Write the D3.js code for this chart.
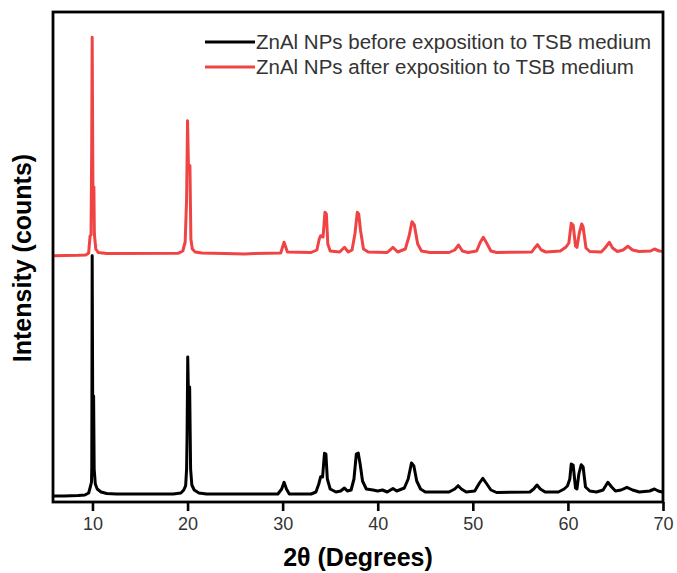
<!DOCTYPE html>
<html><head><meta charset="utf-8">
<script src="https://cdn.jsdelivr.net/npm/d3@7"></script>
<style>body{margin:0;background:#fff}svg{display:block}</style>
</head><body>
<svg id="c" width="677" height="573"></svg>
<script>
// ---- data ----
const xTicks = [10, 20, 30, 40, 50, 60, 70];
const seriesNames = ["ZnAl NPs before exposition to TSB medium", "ZnAl NPs after exposition to TSB medium"];
const seriesColors = ["#000000", "#f04444"];
const redOffset = 4800; // vertical stacking offset (counts)

// black: before exposition  [2θ, counts]
const before = [
[5.85,120],[7.0,120],[8.5,130],[9.2,140],[9.6,180],[9.8,320],[9.9,400],[9.93,700],[9.97,4926],[10.03,1700],
[10.12,2120],[10.18,660],[10.3,360],[10.5,260],[10.9,200],[11.5,170],[12.5,160],[18.5,160],[19.3,180],[19.6,240],
[19.8,326],[19.9,660],[19.95,1320],[20.02,2900],[20.1,2060],[20.22,2300],[20.32,660],[20.45,340],[20.7,240],[21.2,180],
[22.0,160],[29.5,160],[29.9,260],[30.15,394],[30.4,260],[30.7,160],[33.0,160],[33.5,200],[33.8,360],[34.0,506],
[34.2,500],[34.4,974],[34.55,960],[34.7,460],[35.0,260],[35.6,200],[36.1,220],[36.5,280],[36.8,220],[37.2,240],
[37.5,460],[37.75,960],[37.95,980],[38.15,760],[38.4,420],[38.8,260],[39.5,240],[40.0,220],[40.5,240],[41.0,200],
[41.6,270],[42.0,220],[42.8,280],[43.2,460],[43.55,780],[43.8,720],[44.1,420],[44.5,260],[45.0,200],[47.5,200],
[48.1,260],[48.45,326],[48.8,260],[49.3,200],[50.2,220],[50.7,380],[51.05,474],[51.4,380],[51.9,240],[52.5,190],
[56.0,200],[56.4,260],[56.75,340],[57.1,260],[57.6,200],[59.0,200],[59.6,260],[59.95,320],[60.2,460],[60.35,760],
[60.55,740],[60.8,280],[60.95,260],[61.15,560],[61.4,746],[61.6,700],[61.85,300],[62.3,220],[63.0,200],[63.7,240],
[64.2,394],[64.6,300],[65.0,220],[65.6,240],[66.2,294],[66.8,240],[67.5,200],[68.6,220],[69.1,260],[69.5,220],[70.0,194]
];

// red: after exposition  [2θ, counts]
const after = [
[5.85,126],[8.5,134],[9.3,140],[9.6,180],[9.75,520],[9.85,540],[9.92,2260],[9.97,4494],[10.05,1460],[10.15,1500],
[10.2,560],[10.35,260],[10.6,190],[11.5,170],[19.0,174],[19.5,220],[19.75,400],[19.9,1260],[20.0,2826],[20.1,1860],
[20.25,1926],[20.35,460],[20.5,260],[20.8,200],[21.5,180],[25.0,166],[26.0,160],[27.0,170],[29.8,180],[30.15,394],
[30.5,200],[33.0,190],[33.6,240],[33.85,460],[34.0,526],[34.25,500],[34.45,994],[34.6,960],[34.75,360],[35.0,220],
[36.0,200],[36.5,294],[36.9,200],[37.3,240],[37.6,560],[37.85,994],[38.0,960],[38.2,620],[38.5,260],[39.0,200],
[41.0,190],[41.6,294],[42.1,200],[42.9,260],[43.3,520],[43.6,806],[43.85,740],[44.2,360],[44.6,220],[45.5,190],
[47.5,190],[48.1,240],[48.5,340],[48.9,220],[49.5,190],[50.4,220],[50.8,400],[51.1,494],[51.45,380],[51.9,220],
[52.5,190],[56.2,200],[56.5,280],[56.8,346],[57.2,240],[57.7,200],[59.2,220],[59.8,300],[60.1,380],[60.35,774],
[60.55,740],[60.8,320],[60.95,294],[61.2,580],[61.45,760],[61.6,700],[61.9,280],[62.3,210],[63.5,200],[63.9,280],
[64.35,394],[64.7,280],[65.2,210],[65.8,240],[66.3,314],[66.8,240],[67.5,210],[68.7,220],[69.1,260],[69.6,220],[70.0,214]
];

// ---- layout ----
const svg = d3.select("#c");
const L = 53, R = 663, T = 12, B = 502;
const x = d3.scaleLinear().domain([5.85, 70]).range([L, R]);
const y = d3.scaleLinear().domain([0, 9800]).range([B, T]);
const font = "'Liberation Sans', Arial, sans-serif";

const lineGen = off => d3.line().x(d => x(d[0])).y(d => y(d[1] + off));

svg.append("path").datum(before).attr("d", lineGen(0))
  .attr("fill", "none").attr("stroke", seriesColors[0]).attr("stroke-width", 3).attr("stroke-linejoin", "round");
svg.append("path").datum(after).attr("d", lineGen(redOffset))
  .attr("fill", "none").attr("stroke", seriesColors[1]).attr("stroke-width", 3).attr("stroke-linejoin", "round");

// frame
svg.append("rect").attr("x", L).attr("y", T).attr("width", R - L).attr("height", B - T)
  .attr("fill", "none").attr("stroke", "#000").attr("stroke-width", 2.8);

// x axis
const xa = svg.append("g").attr("transform", `translate(0,${B})`)
  .call(d3.axisBottom(x).tickValues(xTicks).tickSize(9).tickSizeOuter(0).tickPadding(6));
xa.select(".domain").remove();
xa.selectAll("line").attr("stroke", "#000").attr("stroke-width", 2.6);
xa.selectAll("text").attr("font-family", font).attr("font-size", 18).attr("fill", "#333");

// titles
svg.append("text").attr("x", 358).attr("y", 566).attr("text-anchor", "middle")
  .attr("font-family", font).attr("font-weight", "bold").attr("font-size", 25).text("2θ (Degrees)");
svg.append("text").attr("transform", "translate(31,258) rotate(-90)").attr("text-anchor", "middle")
  .attr("font-family", font).attr("font-weight", "bold").attr("font-size", 25).text("Intensity (counts)");

// legend
const lg = svg.append("g");
seriesNames.forEach((n, i) => {
  const yy = 42 + i * 25;
  lg.append("line").attr("x1", 205).attr("x2", 255).attr("y1", yy).attr("y2", yy)
    .attr("stroke", seriesColors[i]).attr("stroke-width", 3);
  lg.append("text").attr("x", 256).attr("y", yy + 7).attr("font-family", font).attr("font-size", 20.5)
    .attr("fill", "#333").text(n);
});
</script>
</body></html>
